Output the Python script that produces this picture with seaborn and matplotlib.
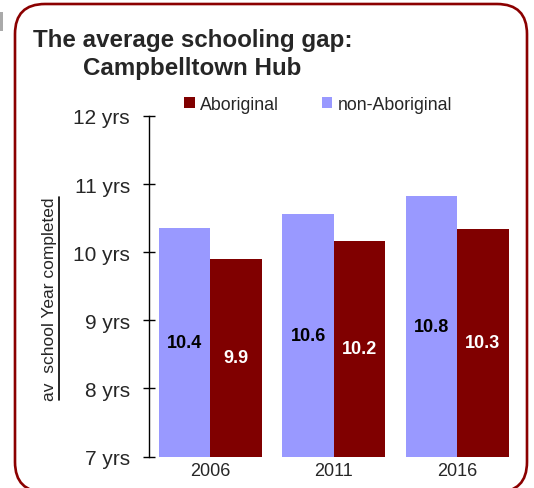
import matplotlib
matplotlib.use("Agg")
import matplotlib.pyplot as plt
import seaborn as sns
import pandas as pd
from matplotlib.patches import FancyBboxPatch, Rectangle
from matplotlib.lines import Line2D
from matplotlib.transforms import IdentityTransform

# ---- data ----
years = ["2006", "2011", "2016"]
non_aboriginal = [10.36, 10.56, 10.83]
aboriginal = [9.90, 10.17, 10.34]
groups = ["non-Aboriginal", "Aboriginal"]
legend_order = ["Aboriginal", "non-Aboriginal"]
ytick_values = [7, 8, 9, 10, 11, 12]
ytick_labels = ["7 yrs", "8 yrs", "9 yrs", "10 yrs", "11 yrs", "12 yrs"]
title_line1 = "The average schooling gap:"
title_line2 = "Campbelltown Hub"
ylabel = "av  school Year completed"

colors = {"non-Aboriginal": "#9999FF", "Aboriginal": "#800000"}
label_colors = {"non-Aboriginal": "black", "Aboriginal": "white"}

df = pd.DataFrame({
    "year": years * 2,
    "group": ["non-Aboriginal"] * 3 + ["Aboriginal"] * 3,
    "value": non_aboriginal + aboriginal,
})

sns.set_theme(style="white")
plt.rcParams["font.family"] = ["Liberation Sans", "DejaVu Sans"]

W, H = 534, 489
fig = plt.figure(figsize=(W / 100, H / 100), dpi=100)
ax = fig.add_axes([148.5 / W, (H - 457.5) / H, (519 - 148.5) / W, (457.5 - 117) / H])

sns.barplot(data=df, x="year", y="value", hue="group", hue_order=groups,
            palette=colors, saturation=1, width=0.834, gap=0, ax=ax,
            edgecolor="none", linewidth=0)

ax.set_ylim(7, 12)
ax.set_xlim(-0.5, 2.5)
ax.set_yticks(ytick_values)
ax.set_yticklabels(ytick_labels, fontsize=15)
ax.tick_params(axis="y", direction="inout", length=8.5, width=1, color="black", pad=9, left=True)
ax.tick_params(axis="x", length=0, pad=4, labelsize=13, bottom=False)
ax.set_xlabel("")
ax.set_ylabel("")
for s in ["top", "right", "bottom"]:
    ax.spines[s].set_visible(False)
ax.spines["left"].set_color("black")
ax.spines["left"].set_linewidth(1)

# value labels
for cont, g in zip(ax.containers, groups):
    ax.bar_label(cont, labels=[f"{v:.1f}" for v in cont.datavalues],
                 label_type="center", fontsize=13, fontweight="bold",
                 color=label_colors[g])

# legend
handles, labels = ax.get_legend_handles_labels()
ax.get_legend().remove()
hmap = dict(zip(labels, handles))
fig.legend([hmap[l] for l in legend_order], legend_order,
           loc="center left", bbox_to_anchor=(184 / W, (H - 105) / H),
           ncol=2, frameon=False, fontsize=12.8, handlelength=0.6,
           handleheight=0.6, handletextpad=0.3, columnspacing=2.4,
           borderpad=0, borderaxespad=0)

# title
fig.text(33 / W, (H - 46.7) / H, title_line1, fontsize=17.4, fontweight="bold",
         ha="left", va="baseline")
fig.text(83 / W, (H - 75) / H, title_line2, fontsize=17.4, fontweight="bold",
         ha="left", va="baseline")

# y label with underline
yl = fig.text(50 / W, (H - 299.5) / H, ylabel, rotation=90, fontsize=12.5,
              ha="center", va="center")

# rounded border
border = FancyBboxPatch((15, -4), 512, 488, boxstyle="round,pad=0,rounding_size=30",
                        transform=IdentityTransform(), facecolor="none",
                        edgecolor="#8B0000", linewidth=1.9, zorder=0)
fig.patches.append(border)
fig.patches.append(Rectangle((0, H - 32), 3, 19, transform=IdentityTransform(),
                             facecolor="#aaaaaa", edgecolor="none"))

fig.canvas.draw()
bb = yl.get_window_extent()
fig.lines.append(Line2D([bb.x1 + 1, bb.x1 + 1], [bb.y0, bb.y1],
                        transform=IdentityTransform(), color="black", linewidth=1.2))

fig.savefig("out.png", dpi=100)
